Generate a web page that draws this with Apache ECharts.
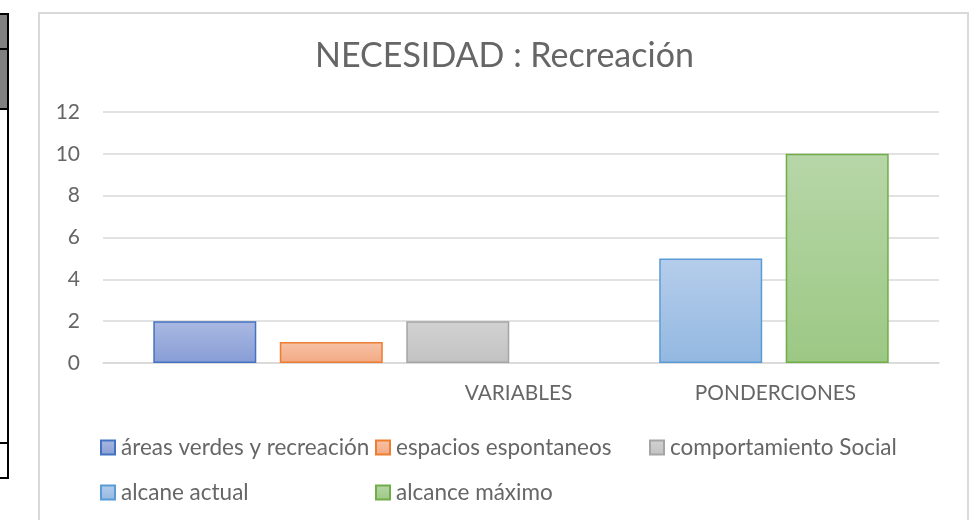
<!DOCTYPE html>
<html>
<head>
<meta charset="utf-8">
<script src="https://cdn.jsdelivr.net/npm/echarts@6/dist/echarts.min.js"></script>
<style>
  html, body { margin: 0; padding: 0; background: #fff; }
  #chart { width: 976px; height: 520px; }
</style>
</head>
<body>
<div id="chart"></div>
<script>
  // data
  const groupLabels = ['VARIABLES', 'PONDERCIONES'];
  const seriesNames = ['áreas verdes y recreación', 'espacios espontaneos', 'comportamiento Social', 'alcane actual', 'alcance máximo'];
  const seriesValues = [2, 1, 2, 5, 10];
  const yTicks = [0, 2, 4, 6, 8, 10, 12];

  const fills = [
    ['#aab9e2', '#879dd5'],
    ['#f7c2a6', '#f2a982'],
    ['#d2d2d2', '#c2c2c2'],
    ['#b5cdeb', '#93b8e1'],
    ['#b7d6a8', '#9cc884']
  ];
  const borders = ['#4472c4', '#ed7d31', '#a5a5a5', '#5b9bd5', '#70ad47'];

  const font = 'Lato';
  const textGray = '#666666';

  const chart = echarts.init(document.getElementById('chart'));

  const series = [];
  seriesNames.forEach((name, i) => {
    series.push({
      name: name,
      type: 'bar',
      barWidth: 103,
      barGap: '22.8%',
      data: [seriesValues[i]],
      itemStyle: {
        color: new echarts.graphic.LinearGradient(0, 0, 0, 1, [
          { offset: 0, color: fills[i][0] },
          { offset: 1, color: fills[i][1] }
        ]),
        borderColor: borders[i],
        borderWidth: 1.5
      },
      emphasis: { disabled: true }
    });
    // empty slot between the VARIABLES bars and the PONDERCIONES bars
    if (i === 2) {
      series.push({ name: 'spacer', type: 'bar', barWidth: 103, barGap: '22.8%', data: [null] });
    }
  });

  // legend laid out in Excel-like columns
  const legendPos = [
    { left: 95, top: 431 },
    { left: 370, top: 431 },
    { left: 644, top: 431 },
    { left: 95, top: 476 },
    { left: 370, top: 476 }
  ];
  const legends = seriesNames.map((name, i) => ({
    data: [name],
    left: legendPos[i].left,
    top: legendPos[i].top,
    icon: 'rect',
    itemWidth: 14,
    itemHeight: 14,
    itemGap: 0,
    selectedMode: false,
    textStyle: { fontFamily: font, fontSize: 22.5, color: textGray, padding: [0, 0, 0, 1] }
  }));

  const option = {
    animation: false,
    title: {
      text: 'NECESIDAD : Recreación',
      left: 310,
      top: 34,
      textStyle: { fontFamily: font, fontSize: 34, fontWeight: 'normal', color: textGray }
    },
    legend: legends,
    grid: [
      { left: 103, right: 37, top: 112, bottom: 157 },
      { left: 390, right: 72, top: 112, bottom: 157 }
    ],
    xAxis: [
      {
        type: 'category',
        gridIndex: 0,
        data: [''],
        axisLine: { lineStyle: { color: '#d9d9d9', width: 1.5 } },
        axisTick: { show: false },
        axisLabel: { show: false }
      },
      {
        type: 'category',
        gridIndex: 1,
        data: groupLabels,
        axisLine: { show: false },
        axisTick: { show: false },
        axisLabel: { margin: 20, fontFamily: font, fontSize: 20.8, color: textGray }
      }
    ],
    yAxis: [
      {
        type: 'value',
        gridIndex: 0,
        min: yTicks[0],
        max: yTicks[yTicks.length - 1],
        interval: yTicks[1] - yTicks[0],
        axisLine: { show: false },
        axisTick: { show: false },
        axisLabel: { margin: 23, fontFamily: font, fontSize: 21, color: textGray },
        splitLine: { lineStyle: { color: '#d9d9d9', width: 1.5 } }
      },
      {
        type: 'value',
        gridIndex: 1,
        min: 0,
        max: 12,
        show: false
      }
    ],
    series: series,
    graphic: [
      // chart area border
      { type: 'rect', shape: { x: 39, y: 13, width: 929, height: 530 }, style: { fill: 'none', stroke: '#d9d9d9', lineWidth: 2 } },
      // piece of the worksheet table at the left edge
      { type: 'rect', shape: { x: 0, y: 15, width: 7, height: 94 }, style: { fill: '#808080' } },
      { type: 'rect', shape: { x: 0, y: 13, width: 9, height: 2 }, style: { fill: '#000' } },
      { type: 'rect', shape: { x: 0, y: 48, width: 9, height: 2 }, style: { fill: '#000' } },
      { type: 'rect', shape: { x: 0, y: 108, width: 9, height: 2 }, style: { fill: '#000' } },
      { type: 'rect', shape: { x: 0, y: 442, width: 9, height: 2 }, style: { fill: '#000' } },
      { type: 'rect', shape: { x: 0, y: 477, width: 9, height: 2 }, style: { fill: '#000' } },
      { type: 'rect', shape: { x: 7, y: 13, width: 2, height: 466 }, style: { fill: '#000' } }
    ]
  };

  chart.setOption(option);
</script>
</body>
</html>
